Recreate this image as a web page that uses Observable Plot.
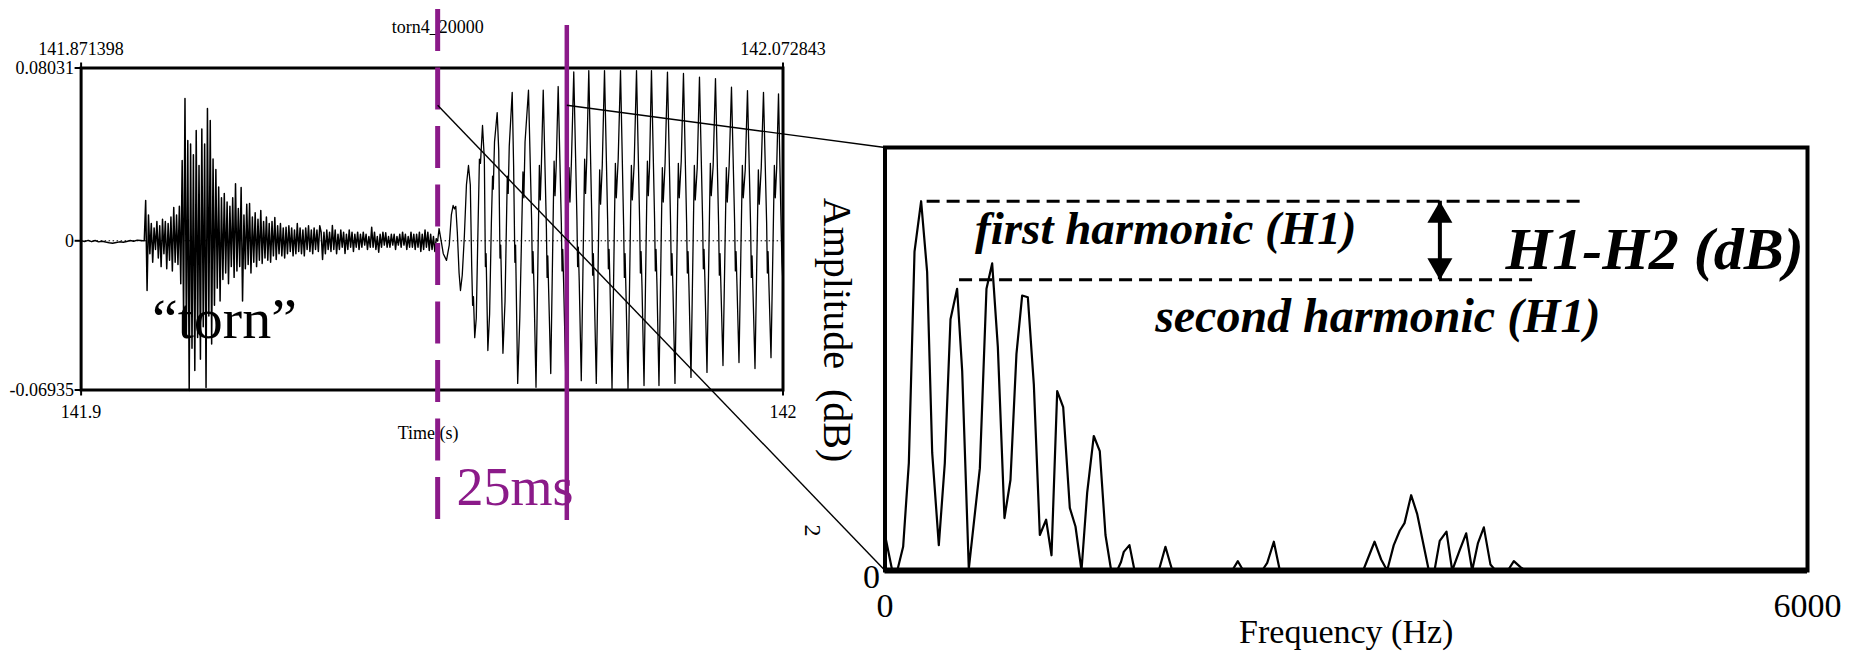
<!DOCTYPE html>
<html>
<head>
<meta charset="utf-8">
<script src="https://cdn.jsdelivr.net/npm/d3@7"></script>
<script src="https://cdn.jsdelivr.net/npm/@observablehq/plot@0.6"></script>
<style>
  html, body { margin: 0; padding: 0; background: #fff; }
  #fig { position: relative; width: 1859px; height: 652px; overflow: hidden; background: #fff; }
  #fig svg { position: absolute; left: 0; top: 0; }
</style>
</head>
<body>
<div id="fig"></div>
<script>
// ---------- waveform of "torn" ----------
const recordingName = "torn4_20000";
const wordLabel = "\u201Ctorn\u201D";
const timeAxisLabel = "Time (s)";
const timeTicks = [141.9, 142];
const timeTickLabels = ["141.9", "142"];
const windowEdgeLabels = ["141.871398", "142.072843"];
const ampTicks = [0.08031, 0, -0.06935];
const ampTickLabels = ["0.08031", "0", "-0.06935"];

// times are in ms after the left edge of the view (141.9 s)
const leadIn = [
  [0, 0], [0.5, -0.0003], [1, 0.0002], [1.5, -0.0004], [2, 0.0001], [2.5, -0.0005],
  [3, -0.0002], [3.5, -0.0006], [4, -0.0009], [4.5, -0.0011], [5, -0.0008], [5.5, -0.0005],
  [6, -0.0007], [6.5, -0.0003], [7, 0.0001], [7.5, -0.0002], [8, 0.0003], [8.5, 0.0001], [8.8, 0]
];

// release burst and aspiration, sampled every 0.2 ms from 9.0 ms
const burstStartMs = 9.0;
const burstStepMs = 0.2;
const burst = [
  0.000, 0.0187, -0.0231, 0.012, -0.006, 0.008, -0.010, 0.006, -0.004, 0.009,
  -0.008, 0.007, -0.012, 0.010, -0.006, 0.009, -0.013, 0.008, -0.009, 0.011,
  -0.014, 0.0155, -0.010, 0.012, -0.011, 0.016,
  -0.020, 0.0373, -0.035, 0.0661, -0.045, 0.0466, -0.0696, 0.045, -0.050, 0.040,
  -0.0603, 0.0513, -0.045, 0.035, -0.055, 0.052, -0.040, 0.045, -0.0682, 0.0615,
  -0.035, 0.0559, -0.048, 0.038, -0.030, 0.0331,
  -0.022, 0.025, -0.028, 0.020, -0.018, 0.022, -0.015, 0.018, -0.020, 0.016,
  -0.012, 0.020, -0.017, 0.0265, -0.014, 0.015, -0.012, 0.0248, -0.028, 0.012,
  -0.013, 0.017, -0.011, 0.0173, -0.015, 0.011, -0.010, 0.013, -0.012, 0.010,
  -0.009, 0.0141, -0.0105, 0.009, -0.008, 0.011, -0.009, 0.008, -0.010, 0.009,
  -0.007, 0.0108, -0.0087, 0.007, -0.006, 0.008, -0.007, 0.006, -0.008, 0.0063,
  -0.006, 0.007, -0.005, 0.006, -0.007, 0.005, -0.006, 0.008, -0.005, 0.006,
  -0.006, 0.005, -0.007, 0.006, -0.004, 0.007, -0.005, 0.005, -0.006, 0.006,
  -0.004, 0.005, -0.005, 0.007, 0.004, -0.0087, 0.004, -0.006, 0.005,
  -0.004, 0.004, -0.005, 0.0071, -0.004, 0.005, -0.006, 0.003, -0.004, 0.005,
  -0.003, 0.004, -0.0059, 0.003, -0.004, 0.005, -0.003, 0.004, -0.005, 0.003,
  -0.003, 0.004, -0.004, 0.003, -0.003, 0.004, -0.002, 0.003, -0.004, 0.002,
  -0.003, 0.0063, -0.003, 0.004, -0.004, 0.002, -0.0053, 0.003, -0.003, 0.004,
  -0.002, 0.0037, -0.003, 0.002, -0.003, 0.003, -0.002, 0.003, -0.004, 0.002,
  -0.002, 0.003, -0.003, 0.004, -0.002, 0.003, -0.004, 0.002, -0.003, 0.004,
  -0.003, 0.003, -0.004, 0.003, -0.003, 0.004, -0.005, 0.003, -0.004, 0.005,
  -0.003, 0.004, -0.0045, 0.003, -0.004, 0.002, -0.005, 0.001
];

// voiced vowel: glottal cycles
const voiced = [
  [50.8, 0], [51.0, 0.0057], [51.3, 0], [51.6, -0.006], [52.06, -0.0091], [52.45, -0.002],
  [52.75, 0.012], [53.0, 0.0164], [53.2, 0.0148], [53.38, 0.016], [53.6, 0.004], [53.85, -0.015],
  [54.05, -0.0231], [54.3, -0.016], [54.6, 0.002], [54.9, 0.026], [55.19, 0.035], [55.45, 0.026],
  [55.65, -0.012], [55.78, -0.030], [55.9, -0.026], [56.08, -0.045], [56.3, -0.036], [56.5, -0.002],
  [56.75, 0.038], [56.9, 0.036], [57.19, 0.0536], [57.45, 0.038], [57.6, -0.012], [57.7, -0.006],
  [57.95, -0.051], [58.2, -0.034], [58.45, 0.008], [58.62, 0.030], [58.72, 0.024], [58.9, 0.046],
  [59.28, 0.0596], [59.5, 0.042], [59.68, -0.008], [59.78, -0.002], [60.1, -0.0523], [60.4, -0.028],
  [60.72, 0.030], [60.85, 0.022], [61.0, 0.044], [61.42, 0.069], [61.62, 0.035], [61.8, -0.010],
  [61.9, -0.002], [62.2, -0.0663], [62.5, -0.036], [62.95, 0.032], [63.08, 0.020], [63.25, 0.046],
  [63.74, 0.070], [64.19, 0.009], [64.29, -0.015], [64.39, -0.005], [64.52, -0.021], [64.81, -0.0681],
  [65.19, 0.014], [65.29, 0.035], [65.42, 0.019], [65.56, 0.033],
  [65.84, 0.070], [66.29, 0.006], [66.39, -0.017], [66.49, -0.007], [66.62, -0.024], [66.91, -0.0617],
  [67.29, 0.018], [67.39, 0.037], [67.52, 0.021], [67.69, 0.035],
  [67.97, 0.0717], [68.42, 0.008], [68.52, -0.014], [68.62, -0.004], [68.75, -0.020], [69.04, -0.0617],
  [69.42, 0.015], [69.52, 0.034], [69.65, 0.018], [69.85, 0.036],
  [70.19, 0.0785], [70.64, 0.010], [70.74, -0.012], [70.84, -0.003], [70.97, -0.019], [71.26, -0.0650],
  [71.64, 0.017], [71.74, 0.038], [71.87, 0.022], [72.03, 0.037],
  [72.33, 0.0791], [72.78, 0.007], [72.88, -0.016], [72.98, -0.006], [73.11, -0.023], [73.4, -0.0663],
  [73.78, 0.014], [73.88, 0.033], [74.01, 0.017], [74.25, 0.035],
  [74.57, 0.0791], [75.02, 0.009], [75.12, -0.013], [75.22, -0.004], [75.35, -0.020], [75.64, -0.0686],
  [76.02, 0.016], [76.12, 0.036], [76.25, 0.020], [76.52, 0.038],
  [76.85, 0.0791], [77.3, 0.006], [77.4, -0.017], [77.5, -0.006], [77.63, -0.024], [77.92, -0.0686],
  [78.3, 0.015], [78.4, 0.035], [78.53, 0.019], [78.8, 0.036],
  [79.13, 0.0791], [79.58, 0.008], [79.68, -0.015], [79.78, -0.005], [79.91, -0.021], [80.2, -0.0673],
  [80.58, 0.017], [80.68, 0.037], [80.81, 0.021], [80.98, 0.034],
  [81.26, 0.0791], [81.71, 0.009], [81.81, -0.014], [81.91, -0.004], [82.04, -0.020], [82.33, -0.0673],
  [82.71, 0.014], [82.81, 0.034], [82.94, 0.018], [83.2, 0.036],
  [83.54, 0.0784], [83.99, 0.007], [84.09, -0.016], [84.19, -0.006], [84.32, -0.022], [84.61, -0.0663],
  [84.99, 0.016], [85.09, 0.036], [85.22, 0.020], [85.5, 0.037],
  [85.82, 0.0778], [86.27, 0.008], [86.37, -0.015], [86.47, -0.005], [86.6, -0.021], [86.89, -0.0635],
  [87.27, 0.015], [87.37, 0.035], [87.5, 0.019], [87.78, 0.034],
  [88.1, 0.0760], [88.55, 0.009], [88.65, -0.013], [88.75, -0.004], [88.88, -0.019], [89.17, -0.0612],
  [89.55, 0.017], [89.65, 0.036], [89.78, 0.021], [90.05, 0.035],
  [90.38, 0.0754], [90.83, 0.007], [90.93, -0.016], [91.03, -0.006], [91.16, -0.022], [91.45, -0.0580],
  [91.83, 0.015], [91.93, 0.034], [92.06, 0.018], [92.33, 0.035],
  [92.66, 0.0714], [93.11, 0.008], [93.21, -0.014], [93.31, -0.005], [93.44, -0.020], [93.73, -0.0566],
  [94.11, 0.016], [94.21, 0.035], [94.34, 0.020], [94.62, 0.033],
  [94.94, 0.0698], [95.39, 0.006], [95.49, -0.017], [95.59, -0.007], [95.72, -0.023], [96.01, -0.0594],
  [96.39, 0.014], [96.49, 0.033], [96.62, 0.017], [96.9, 0.034],
  [97.22, 0.0690], [97.67, 0.008], [97.77, -0.015], [97.87, -0.005], [98.0, -0.021], [98.29, -0.0543],
  [98.67, 0.016], [98.77, 0.035], [98.9, 0.020], [99.1, 0.034],
  [99.36, 0.0683], [99.7, 0.012], [99.85, -0.010], [100, -0.020]
];

// analysis window, in ms after 141.9 s
const windowStartMs = 50.8;
const windowEndMs = 69.2;
const windowLabel = "25ms";
const markerTopAmp = 0.1075;      // dashed marker reaches above the frame
const solidTopAmp = 0.1001;
const markerBottomAmp = -0.130;
const zoomFromAmp = 0.063;        // where the zoom lines leave the markers

// ---------- spectrum of the window ----------
const freqTicks = [0, 6000];
const dbDomain = [0, 50];
const dbTicks = [0];
const freqAxisLabel = "Frequency (Hz)";
const ampAxisLabel = "Amplitude  (dB)";
const spectrumHz = [
  0, 47, 80, 118, 155, 192, 235, 274, 307, 350, 389, 426, 469, 502, 545, 617, 660, 697, 734, 777,
  816, 855, 892, 929, 968, 1007, 1048, 1083, 1120, 1159, 1202, 1239, 1278, 1315, 1358, 1397, 1434,
  1471, 1510, 1535, 1553, 1590, 1623, 1781, 1824, 1868, 2258, 2295, 2330, 2453, 2486, 2529, 2568,
  3110, 3184, 3227, 3266, 3309, 3348, 3379, 3422, 3461, 3537, 3574, 3608, 3652, 3689, 3738, 3780,
  3819, 3856, 3895, 3938, 3971, 4051, 4090, 4133, 4166, 6000
];
const spectrumDb = [
  4.2, 0, 0, 2.8, 12.7, 37.7, 43.65, 35.3, 13.9, 3.0, 12.7, 29.7, 33.3, 23.6, 0.2, 12.1, 33.3, 36.3, 26.4, 6.2,
  10.7, 25.6, 32.5, 32.3, 22.0, 4.2, 6.0, 1.8, 21.2, 19.3, 7.4, 5.2, 0, 9.2, 15.9, 14.1, 4.2,
  0, 0, 1.0, 2.2, 3.0, 0, 0, 2.8, 0, 0, 1.1, 0, 0, 0.9, 3.4, 0,
  0, 3.4, 1.3, 0, 3.0, 4.7, 5.6, 8.9, 6.7, 0, 0, 3.5, 4.6, 0, 2.4, 4.4,
  0, 3.2, 5.1, 0.7, 0, 0, 1.1, 0.4, 0, 0
];
const harmonicNames = ["first harmonic (H1)", "second harmonic (H1)"];
const harmonicDb = [43.65, 34.36];
const guideFromHz = [274, 485];
const guideToHz = [4555, 4220];
const diffLabel = "H1-H2 (dB)";
const diffArrowHz = 3609;

// ---------- drawing ----------
const W = 1859, H = 652;
const INK = "#000";
const PURPLE = "#8b1a89";
const SERIF = "Liberation Serif";
const svgStyle = "background: transparent; font-family: 'Liberation Serif', serif; overflow: visible;";
const t = ms => timeTicks[0] + ms / 1000;

const burstPoints = [
  ...leadIn.map(([ms, a]) => ({time: t(ms), amp: a})),
  ...burst.map((a, i) => ({time: t(burstStartMs + i * burstStepMs), amp: a}))
];
const voicedPoints = voiced.map(([ms, a]) => ({time: t(ms), amp: a}));
const markers = [
  {time: t(windowStartMs), top: markerTopAmp, bottom: markerBottomAmp},
  {time: t(windowEndMs), top: solidTopAmp, bottom: markerBottomAmp}
];
const serifText = {fontFamily: SERIF, fill: INK};

const waveChart = Plot.plot({
  width: W, height: H,
  marginLeft: 80.6, marginRight: W - 782.5, marginTop: 67.5, marginBottom: H - 389.5,
  x: {domain: timeTicks},
  y: {domain: [ampTicks[2], ampTicks[0]]},
  style: svgStyle,
  marks: [
    Plot.ruleY([0], {stroke: INK, strokeWidth: 1, strokeDasharray: "1.5,2.5"}),
    Plot.line([...burstPoints, voicedPoints[0]], {x: "time", y: "amp", stroke: INK, strokeWidth: 1.5}),
    Plot.line(voicedPoints, {x: "time", y: "amp", stroke: INK, strokeWidth: 1.3}),
    Plot.frame({stroke: INK, strokeWidth: 3}),
    Plot.axisY({ticks: ampTicks, tickFormat: d => ampTickLabels[ampTicks.indexOf(d)],
      tickSize: 6, tickPadding: 1, fontSize: 18, fontFamily: SERIF, strokeWidth: 2, label: null}),
    Plot.axisX({anchor: "bottom", ticks: timeTicks, tickFormat: d => timeTickLabels[timeTicks.indexOf(d)],
      tickSize: 6, tickPadding: 9, fontSize: 18, fontFamily: SERIF, strokeWidth: 2, label: null}),
    Plot.axisX({anchor: "top", ticks: timeTicks, tickFormat: d => windowEdgeLabels[timeTicks.indexOf(d)],
      tickSize: 6, tickPadding: 7, fontSize: 18, fontFamily: SERIF, strokeWidth: 2, label: null}),
    Plot.text([timeAxisLabel], {frameAnchor: "bottom", textAnchor: "middle", lineAnchor: "middle",
      dx: -4, dy: 43.5, fontSize: 18, ...serifText}),
    Plot.text([recordingName], {x: [t(windowStartMs)], frameAnchor: "top", textAnchor: "middle", lineAnchor: "middle",
      dy: -41, fontSize: 18, ...serifText}),
    Plot.text([wordLabel], {x: [t(10.1)], y: [-0.0454], textAnchor: "start", lineAnchor: "bottom",
      fontSize: 58, ...serifText}),
    Plot.ruleX(markers.slice(0, 1), {x: "time", y1: "top", y2: "bottom", stroke: PURPLE,
      strokeWidth: 5, strokeDasharray: "42,16.5"}),
    Plot.ruleX(markers.slice(1), {x: "time", y1: "top", y2: "bottom", stroke: PURPLE, strokeWidth: 4.5}),
    Plot.text([windowLabel], {x: [t(53.5)], y: [-0.1230], textAnchor: "start", lineAnchor: "bottom",
      fontSize: 54, fontFamily: SERIF, fill: PURPLE})
  ]
});

const spectrum = spectrumHz.map((f, i) => ({hz: f, db: spectrumDb[i]}));
const guides = harmonicDb.map((db, i) => ({db, from: guideFromHz[i], to: guideToHz[i]}));
const heads = [
  {hz: diffArrowHz, db: harmonicDb[0]},
  {hz: diffArrowHz, db: harmonicDb[1]}
];
const boldItalic = {fontFamily: SERIF, fontWeight: "bold", fontStyle: "italic", fill: INK,
  textAnchor: "start", lineAnchor: "bottom"};

const specChart = Plot.plot({
  width: W, height: H,
  marginLeft: 884.5, marginRight: W - 1807, marginTop: 147, marginBottom: H - 570,
  x: {domain: freqTicks},
  y: {domain: dbDomain},
  style: svgStyle,
  marks: [
    Plot.line(spectrum, {x: "hz", y: "db", stroke: INK, strokeWidth: 2.2}),
    Plot.ruleY(guides, {y: "db", x1: "from", x2: "to", stroke: INK, strokeWidth: 3, strokeDasharray: "13,7"}),
    Plot.ruleX([{hz: diffArrowHz, top: harmonicDb[0], bottom: harmonicDb[1]}],
      {x: "hz", y1: "top", y2: "bottom", stroke: INK, strokeWidth: 4}),
    Plot.dot(heads.slice(0, 1), {x: "hz", y: "db", dy: 14.4, symbol: "triangle", r: 9.3, fill: INK, stroke: "none"}),
    Plot.dot(heads.slice(1), {x: "hz", y: "db", dy: -14.4, rotate: 180, symbol: "triangle", r: 9.3, fill: INK, stroke: "none"}),
    Plot.frame({stroke: INK, strokeWidth: 4}),
    Plot.ruleY([0], {stroke: INK, strokeWidth: 6}),
    Plot.axisX({ticks: freqTicks, tickFormat: d => String(d), tickSize: 0, tickPadding: 22,
      fontSize: 34, fontFamily: SERIF, label: null}),
    Plot.axisY({ticks: dbTicks, tickFormat: d => String(d), tickSize: 0, tickPadding: 5, dy: 7,
      fontSize: 34, fontFamily: SERIF, label: null}),
    Plot.text([freqAxisLabel], {frameAnchor: "bottom", textAnchor: "middle", lineAnchor: "bottom",
      dy: 72, fontSize: 34, ...serifText}),
    Plot.text([ampAxisLabel], {frameAnchor: "left", textAnchor: "middle", lineAnchor: "middle",
      dx: -48.5, dy: -29, rotate: 90, fontSize: 40, ...serifText}),
    Plot.text(["2"], {frameAnchor: "bottom-left", textAnchor: "middle", lineAnchor: "middle",
      dx: -72, dy: -40, rotate: 90, fontSize: 24, ...serifText}),
    Plot.text([harmonicNames[0]], {x: [586], y: [38.65], fontSize: 47, ...boldItalic}),
    Plot.text([harmonicNames[1]], {x: [1757], y: [28.2], fontSize: 48, ...boldItalic}),
    Plot.text([diffLabel], {x: [4036], y: [35.66], fontSize: 60, ...boldItalic})
  ]
});

// zoom lines from the analysis window on the waveform to the spectrum panel
const wx = waveChart.scale("x"), wy = waveChart.scale("y");
const sx = specChart.scale("x"), sy = specChart.scale("y");
const zoomLines = [
  {x1: wx.apply(t(windowStartMs)), y1: wy.apply(zoomFromAmp), x2: sx.apply(freqTicks[0]), y2: sy.apply(dbDomain[0])},
  {x1: wx.apply(t(windowEndMs)), y1: wy.apply(zoomFromAmp), x2: sx.apply(freqTicks[0]), y2: sy.apply(dbDomain[1])}
];
const zoomChart = Plot.plot({
  width: W, height: H, margin: 0,
  x: {type: "identity", axis: null},
  y: {type: "identity", axis: null},
  style: svgStyle,
  marks: [
    Plot.link(zoomLines, {x1: "x1", y1: "y1", x2: "x2", y2: "y2", stroke: INK, strokeWidth: 1.4})
  ]
});

document.getElementById("fig").append(waveChart, specChart, zoomChart);
</script>
</body>
</html>
